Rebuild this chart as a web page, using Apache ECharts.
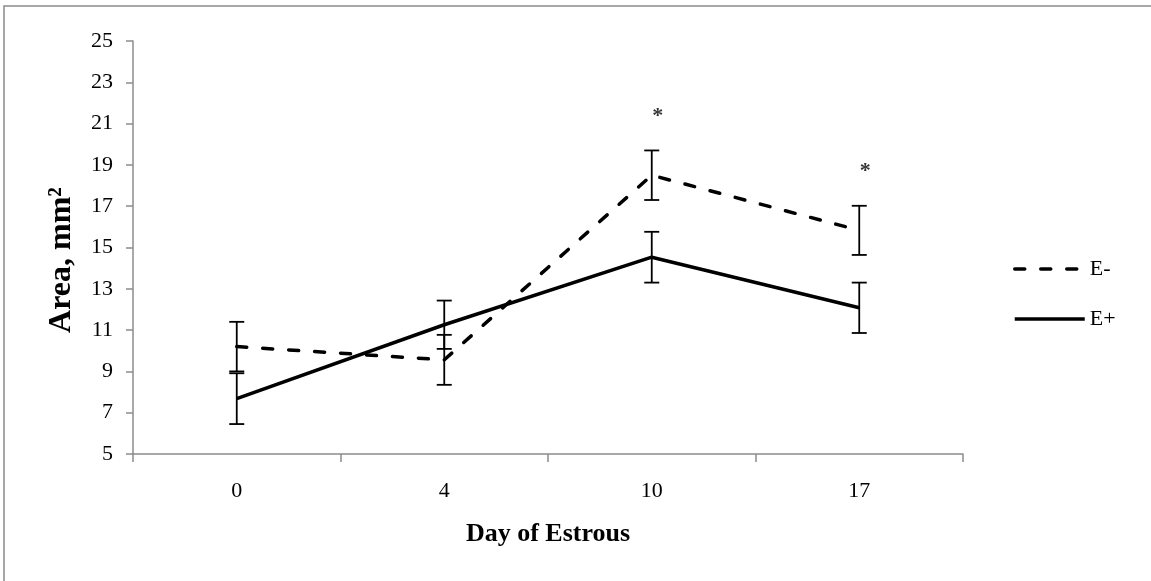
<!DOCTYPE html>
<html>
<head>
<meta charset="utf-8">
<style>
  html, body { margin: 0; padding: 0; background: #fff; }
  #chart { width: 1151px; height: 581px; }
</style>
<script src="https://cdn.jsdelivr.net/npm/echarts@6/dist/echarts.min.js"></script>
</head>
<body>
<div id="chart"></div>
<script>
// Day of estrous cycle
const days = ['0', '4', '10', '17'];

// Mean area (mm²) per day, with standard errors
const eMinusMean = [10.2, 9.56, 18.5, 15.83];
const eMinusSE   = [1.2, 1.21, 1.2, 1.19];
const ePlusMean  = [7.68, 11.26, 14.53, 12.08];
const ePlusSE    = [1.23, 1.17, 1.23, 1.22];

// Significance markers (category index, height on the area axis)
const sigDays   = [2, 3];
const sigHeight = [21.55, 18.9];

const serif = '"Liberation Serif", "Times New Roman", serif';

function barData(mean, se) {
  return mean.map((m, i) => [i, m - se[i], m + se[i]]);
}

function renderErrorBar(params, api) {
  const x = api.value(0);
  const lo = api.coord([x, api.value(1)]);
  const hi = api.coord([x, api.value(2)]);
  const half = 7.5;
  const style = { stroke: '#000', lineWidth: 1.8 };
  return {
    type: 'group',
    children: [
      { type: 'line', shape: { x1: hi[0], y1: hi[1], x2: lo[0], y2: lo[1] }, style },
      { type: 'line', shape: { x1: hi[0] - half, y1: hi[1], x2: hi[0] + half, y2: hi[1] }, style },
      { type: 'line', shape: { x1: lo[0] - half, y1: lo[1], x2: lo[0] + half, y2: lo[1] }, style }
    ]
  };
}

const chart = echarts.init(document.getElementById('chart'), null, { renderer: 'canvas' });

chart.setOption({
  animation: false,
  backgroundColor: '#fff',
  textStyle: { fontFamily: serif, color: '#000' },
  grid: { left: 133, top: 41, right: 188, bottom: 127 },
  graphic: [
    {
      type: 'rect',
      shape: { x: 4, y: 6, width: 1300, height: 700 },
      style: { fill: 'none', stroke: '#8a8a8a', lineWidth: 1.5 },
      silent: true
    },
    {
      type: 'text',
      x: 62, y: 260,
      rotation: Math.PI / 2,
      style: {
        text: 'Area, mm²',
        font: 'bold 32px ' + serif,
        fill: '#000',
        align: 'center',
        verticalAlign: 'middle'
      }
    }
  ],
  legend: {
    orient: 'vertical',
    left: 1008,
    top: 253,
    itemWidth: 70,
    itemHeight: 4,
    itemGap: 28,
    data: ['E-', 'E+'],
    itemStyle: { opacity: 0 },
    lineStyle: { width: 3.5 },
    textStyle: { fontFamily: serif, fontSize: 22, color: '#000' }
  },
  xAxis: {
    type: 'category',
    data: days,
    boundaryGap: true,
    name: 'Day of Estrous',
    nameLocation: 'middle',
    nameGap: 67,
    nameTextStyle: { fontFamily: serif, fontSize: 26, fontWeight: 'bold', color: '#000' },
    axisLine: { show: true, lineStyle: { color: '#8c8c8c', width: 1.5 } },
    axisTick: { show: true, alignWithLabel: false, length: 8, lineStyle: { color: '#8c8c8c', width: 1.5 } },
    axisLabel: { margin: 26, fontFamily: serif, fontSize: 22, color: '#000' },
    splitLine: { show: false }
  },
  yAxis: {
    type: 'value',
    min: 5,
    max: 25,
    interval: 2,
    axisLine: { show: true, lineStyle: { color: '#8c8c8c', width: 1.5 } },
    axisTick: { show: true, length: 7, lineStyle: { color: '#8c8c8c', width: 1.5 } },
    axisLabel: { margin: 20, fontFamily: serif, fontSize: 22, color: '#000' },
    splitLine: { show: false }
  },
  series: [
    {
      name: 'E-',
      type: 'line',
      data: eMinusMean,
      symbol: 'none',
      color: '#000',
      lineStyle: { color: '#000', width: 3.5, type: [10, 16], cap: 'round' },
      z: 3
    },
    {
      name: 'E+',
      type: 'line',
      data: ePlusMean,
      symbol: 'none',
      color: '#000',
      lineStyle: { color: '#000', width: 3.5, type: 'solid' },
      z: 3
    },
    {
      name: 'E- SE',
      type: 'custom',
      data: barData(eMinusMean, eMinusSE),
      renderItem: renderErrorBar,
      encode: { x: 0, y: [1, 2] },
      z: 4
    },
    {
      name: 'E+ SE',
      type: 'custom',
      data: barData(ePlusMean, ePlusSE),
      renderItem: renderErrorBar,
      encode: { x: 0, y: [1, 2] },
      z: 4
    },
    {
      name: 'sig',
      type: 'scatter',
      data: sigDays.map((d, i) => [d, sigHeight[i]]),
      symbolSize: 0,
      label: {
        show: true,
        position: 'inside',
        formatter: '*',
        offset: [6, 4],
        fontFamily: serif,
        fontSize: 22,
        fontWeight: 'bold',
        color: '#000'
      },
      z: 5
    }
  ]
});
</script>
</body>
</html>
